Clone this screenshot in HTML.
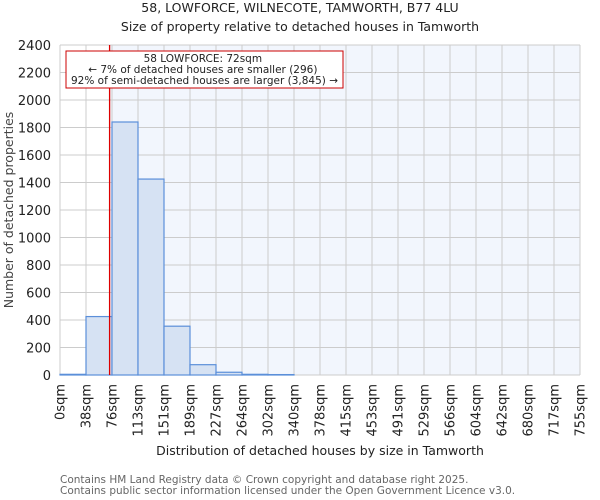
<!DOCTYPE html>
<html><head><meta charset="utf-8"><style>
body{margin:0;background:#fff;font-family:"DejaVu Sans","Liberation Sans",sans-serif;}
svg{display:block}
</style></head><body>
<svg id="chart" width="600" height="500" xmlns="http://www.w3.org/2000/svg" font-family="DejaVu Sans, Liberation Sans, sans-serif">
<text x="300" y="12" text-anchor="middle" font-size="12.5" fill="#222">58, LOWFORCE, WILNECOTE, TAMWORTH, B77 4LU</text>
<text x="300" y="31" text-anchor="middle" font-size="12.5" fill="#222">Size of property relative to detached houses in Tamworth</text>
<rect x="110" y="45" width="470" height="330" fill="#f2f6fd"/>
<g id="grid"></g>
<g id="bars"></g>
<g id="yticks"></g>
<g id="xticks"></g>
<line id="marker" y1="45" y2="375" stroke="#dd0000" stroke-width="1.3"/>
<rect x="66" y="51" width="277" height="37" fill="#fff" stroke="#cc0000" stroke-width="1"/>
<text font-size="10.5" fill="#222" text-anchor="middle">
<tspan x="204.5" y="62">58 LOWFORCE: 72sqm</tspan>
<tspan x="204.5" y="73">← 7% of detached houses are smaller (296)</tspan>
<tspan x="204.5" y="84">92% of semi-detached houses are larger (3,845) →</tspan>
</text>
<text transform="translate(13,210) rotate(-90)" text-anchor="middle" font-size="12.5" fill="#444">Number of detached properties</text>
<text x="320" y="455" text-anchor="middle" font-size="12.5" fill="#222">Distribution of detached houses by size in Tamworth</text>
<text x="60" y="483" font-size="10.5" fill="#666">Contains HM Land Registry data © Crown copyright and database right 2025.</text>
<text x="60" y="494" font-size="10.5" fill="#666">Contains public sector information licensed under the Open Government Licence v3.0.</text>
</svg>
<script>
const binLabels=["0sqm","38sqm","76sqm","113sqm","151sqm","189sqm","227sqm","264sqm","302sqm","340sqm","378sqm","415sqm","453sqm","491sqm","529sqm","566sqm","604sqm","642sqm","680sqm","717sqm","755sqm"];
const counts=[5,425,1840,1425,355,75,20,5,3,0,0,0,0,0,0,0,0,0,0,0];
const yTicks=[0,200,400,600,800,1000,1200,1400,1600,1800,2000,2200,2400];
const binWidthSqm=37.75;
const propertySize=72;
const NS="http://www.w3.org/2000/svg";
const X0=60,X1=580,Y0=375,Y1=45,YMAX=2400;
const nb=counts.length;
function xs(i){return X0+(X1-X0)*i/nb;}
function xv(v){return X0+(X1-X0)*v/(binWidthSqm*nb);}
function ys(v){return Y0-(Y0-Y1)*v/YMAX;}
function mk(tag,attrs,parent){const e=document.createElementNS(NS,tag);for(const k in attrs)e.setAttribute(k,attrs[k]);parent.appendChild(e);return e;}
const grid=document.getElementById('grid'),bars=document.getElementById('bars'),yt=document.getElementById('yticks'),xt=document.getElementById('xticks');
yTicks.forEach(v=>{
  const l=mk('line',{x1:X0,x2:X1,y1:ys(v),y2:ys(v),stroke:'#ccc','stroke-width':1},grid);
  
  
  const t=mk('text',{x:51,y:ys(v)+5,'text-anchor':'end','font-size':13,fill:'#222'},yt);
  t.textContent=v;
  
  
});
binLabels.forEach((s,i)=>{
  const l=mk('line',{x1:xs(i),x2:xs(i),y1:Y1,y2:Y0,stroke:'#ccc','stroke-width':1},grid);
  
  
  const t=mk('text',{transform:`translate(${xs(i)+4.5},384) rotate(-90)`,'text-anchor':'end','font-size':13,fill:'#222'},xt);
  t.textContent=s;
  
  
});
counts.forEach((c,i)=>{
  if(i>8&&c===0)return;
  const r=mk('rect',{x:xs(i),y:ys(c),width:xs(i+1)-xs(i),height:Y0-ys(c),fill:'#d6e2f3',stroke:'#5b8fd9','stroke-width':1.2},bars);
  
  
});
const m=document.getElementById('marker');m.setAttribute('x1',xv(propertySize));m.setAttribute('x2',xv(propertySize));
</script>
</body></html>
